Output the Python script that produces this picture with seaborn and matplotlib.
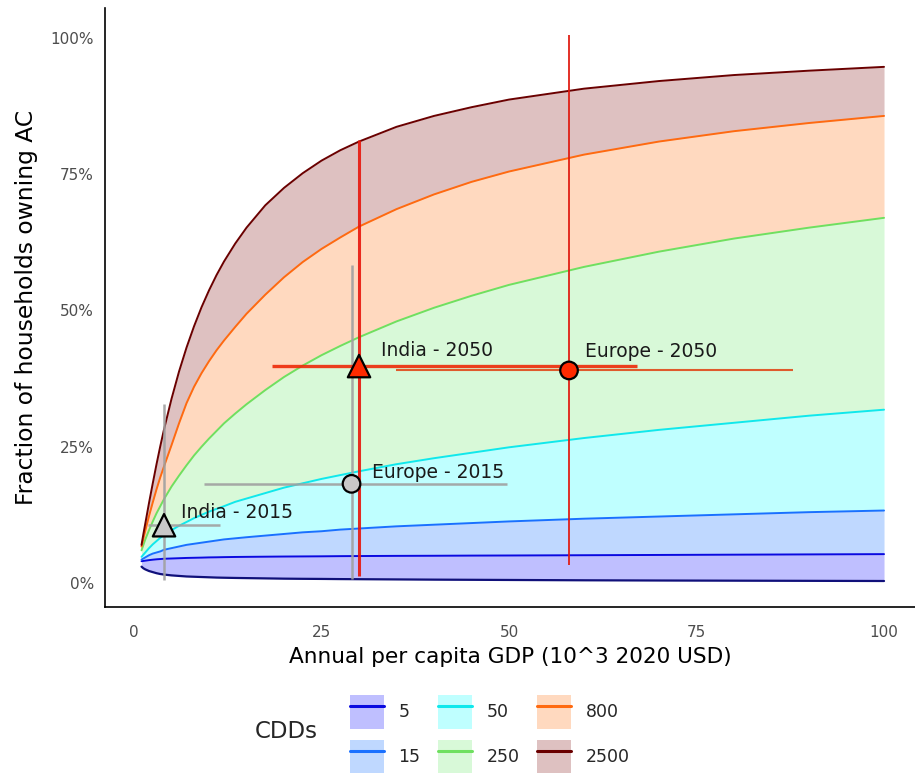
import matplotlib
matplotlib.use("Agg")
import matplotlib.pyplot as plt
import seaborn as sns
import pandas as pd
from matplotlib.patches import Patch
from matplotlib.lines import Line2D

gdp = [1, 1.25, 1.5, 2, 2.5, 3, 3.5, 4, 5, 6, 7, 8, 9, 10, 11, 12, 13.5, 15, 17.5, 20,
       22.5, 25, 27.5, 30, 35, 40, 45, 50, 60, 70, 80, 90, 100]

# fraction of households owning AC (%), one curve per CDD level
floor_curve = [3.0, 2.7, 2.5, 2.2, 2.0, 1.8, 1.65, 1.55, 1.4, 1.3, 1.2, 1.15, 1.1, 1.05, 1.0, 0.97, 0.93,
               0.9, 0.85, 0.8, 0.77, 0.75, 0.72, 0.7, 0.66, 0.62, 0.59, 0.56, 0.5, 0.46, 0.43, 0.4, 0.37]
cdd_5 = [4.0, 4.05, 4.1, 4.2, 4.28, 4.35, 4.4, 4.45, 4.5, 4.55, 4.6, 4.63, 4.66, 4.7, 4.72, 4.75, 4.78,
         4.8, 4.83, 4.86, 4.88, 4.9, 4.93, 4.95, 4.98, 5.0, 5.03, 5.05, 5.1, 5.15, 5.2, 5.25, 5.3]
cdd_15 = [4.3, 4.5, 4.7, 5.1, 5.4, 5.6, 5.8, 6.1, 6.4, 6.7, 7.0, 7.2, 7.4, 7.6, 7.8, 8.0, 8.2,
          8.4, 8.7, 9.0, 9.3, 9.5, 9.8, 10.0, 10.4, 10.7, 11.0, 11.3, 11.8, 12.2, 12.6, 13.0, 13.3]
cdd_50 = [4.8, 5.2, 5.6, 6.4, 7.1, 7.7, 8.3, 8.8, 9.7, 10.5, 11.2, 11.9, 12.5, 13.1, 13.6, 14.1, 14.9,
          15.5, 16.5, 17.5, 18.3, 19.1, 19.8, 20.5, 21.8, 22.9, 23.9, 24.9, 26.6, 28.1, 29.4, 30.7, 31.8]
cdd_250 = [6.0, 7.0, 8.0, 9.7, 11.3, 12.8, 14.1, 15.4, 17.7, 19.7, 21.6, 23.4, 25.0, 26.5, 27.9, 29.3, 31.1,
           32.8, 35.4, 37.8, 39.9, 41.8, 43.5, 45.1, 48.0, 50.5, 52.7, 54.7, 58.0, 60.8, 63.2, 65.2, 67.0]
cdd_800 = [6.7, 8.2, 9.6, 12.3, 14.8, 17.2, 19.4, 21.4, 25.3, 29.3, 33.0, 36.0, 38.5, 40.7, 42.7, 44.5, 47.0,
           49.4, 52.9, 56.1, 58.9, 61.3, 63.4, 65.4, 68.6, 71.3, 73.6, 75.5, 78.6, 81.0, 82.9, 84.4, 85.7]
cdd_2500 = [7.0, 9.0, 10.9, 14.7, 18.3, 21.8, 25.1, 28.2, 33.8, 38.8, 43.2, 47.1, 50.6, 53.7, 56.5, 59.0, 62.3,
            65.2, 69.3, 72.5, 75.2, 77.5, 79.4, 81.0, 83.7, 85.7, 87.3, 88.7, 90.7, 92.1, 93.2, 94.0, 94.7]

cdd_labels = ["5", "15", "50", "250", "800", "2500"]
line_colors = ["#0a0ae0", "#1a70ff", "#10e8ec", "#6fe060", "#ff6a10", "#6a0000"]
fill_colors = ["#0000ff", "#0066ff", "#00ffff", "#64eb64", "#ff6a00", "#7d0a0a"]

# country estimates with uncertainty ranges
pt_label = ["India - 2015", "Europe - 2015", "India - 2050", "Europe - 2050"]
pt_region = ["India", "Europe", "India", "Europe"]
pt_year = ["2015", "2015", "2050", "2050"]
pt_gdp = [4, 29, 30, 58]
pt_gdp_lo = [1.9, 9.3, 18.4, 34.9]
pt_gdp_hi = [11.5, 49.7, 67.0, 87.9]
pt_frac = [10.6, 18.2, 39.8, 39.0]
pt_frac_lo = [0.5, 0.8, 1.3, 3.3]
pt_frac_hi = [32.8, 58.3, 81.3, 100.5]
label_offset = [(12, 9.5), (14.5, 8.5), (16, 11), (11.5, 14)]

curves = [floor_curve, cdd_5, cdd_15, cdd_50, cdd_250, cdd_800, cdd_2500]
long = pd.DataFrame({
    "gdp": gdp * 6,
    "frac": cdd_5 + cdd_15 + cdd_50 + cdd_250 + cdd_800 + cdd_2500,
    "CDDs": [c for c in cdd_labels for _ in gdp],
})
pts = pd.DataFrame({"label": pt_label, "region": pt_region, "year": pt_year,
                    "gdp": pt_gdp, "frac": pt_frac})

sns.set_theme(style="white")
plt.rcParams["font.family"] = ["DejaVu Sans"]

fig = plt.figure(figsize=(9.15, 7.73), dpi=100)
ax = fig.add_axes([105 / 915, 166 / 773, 810 / 915, 599 / 773])

# ribbons between successive curves
for i, lab in enumerate(cdd_labels):
    ax.fill_between(gdp, curves[i], curves[i + 1], color=fill_colors[i], alpha=0.25, lw=0)

ax.plot(gdp, floor_curve, color="#10107a", lw=1.6)
sns.lineplot(data=long, x="gdp", y="frac", hue="CDDs", palette=dict(zip(cdd_labels, line_colors)),
             lw=1.4, legend=False, ax=ax)

# uncertainty bars
h_colors = ["#a0a0a0", "#a0a0a0", "#ee2a08", "#e04a1a"]
v_colors = ["#a0a0a0", "#a0a0a0", "#e8160c", "#e01a10"]
h_widths = [1.8, 1.8, 2.4, 1.5]
v_widths = [1.8, 1.8, 2.2, 1.4]
for i in range(len(pt_label)):
    ax.hlines(pt_frac[i], pt_gdp_lo[i], pt_gdp_hi[i], color=h_colors[i], lw=h_widths[i], alpha=0.9)
    ax.vlines(pt_gdp[i], pt_frac_lo[i], pt_frac_hi[i], color=v_colors[i], lw=v_widths[i], alpha=0.9)

marker_fill = {"2015": "#c8c8c8", "2050": "#ff2a00"}
sns.scatterplot(data=pts[pts.region == "India"], x="gdp", y="frac", hue="year", palette=marker_fill,
                marker="^", s=260, edgecolor="black", linewidth=1.6, legend=False, zorder=5, ax=ax)
sns.scatterplot(data=pts[pts.region == "Europe"], x="gdp", y="frac", hue="year", palette=marker_fill,
                marker="o", s=160, edgecolor="black", linewidth=1.6, legend=False, zorder=5, ax=ax)

for i in range(len(pt_label)):
    ax.annotate(pt_label[i], (pt_gdp[i], pt_frac[i]), xytext=label_offset[i], textcoords="offset points",
                fontsize=13.5, color="#1a1a1a", va="center", ha="left", zorder=6)

ax.set_xlim(-3.87, 104.13)
ax.set_ylim(-4.4, 105.5)
ax.set_xticks([0, 25, 50, 75, 100])
ax.set_yticks([0, 25, 50, 75, 100])
ax.set_yticklabels(["0%", "25%", "50%", "75%", "100%"])
ax.tick_params(length=0, labelsize=11, labelcolor="#4d4d4d")
ax.tick_params(axis="x", pad=13)
ax.tick_params(axis="y", pad=8)
ax.set_xlabel("Annual per capita GDP (10^3 2020 USD)", fontsize=15.6, color="black", labelpad=5)
ax.set_ylabel("Fraction of households owning AC", fontsize=16.8, color="black", labelpad=9)
for side in ["top", "right"]:
    ax.spines[side].set_visible(False)
for side in ["left", "bottom"]:
    ax.spines[side].set_color("black")
    ax.spines[side].set_linewidth(1.2)

handles = [(Patch(facecolor=fill_colors[i], alpha=0.25, edgecolor="none"),
            Line2D([], [], color=line_colors[i], lw=2.2)) for i in range(len(cdd_labels))]
fig.legend(handles, cdd_labels, loc="upper left", bbox_to_anchor=(350 / 915, 1 - 695 / 773),
           ncol=3, frameon=False, fontsize=12.5, handlelength=1.95, handleheight=2.64,
           handletextpad=0.85, labelspacing=0.63, columnspacing=1.0, borderpad=0, borderaxespad=0)
fig.text(255 / 915, 1 - 731 / 773, "CDDs", fontsize=16.5, va="center", ha="left")

fig.savefig("out.png", dpi=100)
